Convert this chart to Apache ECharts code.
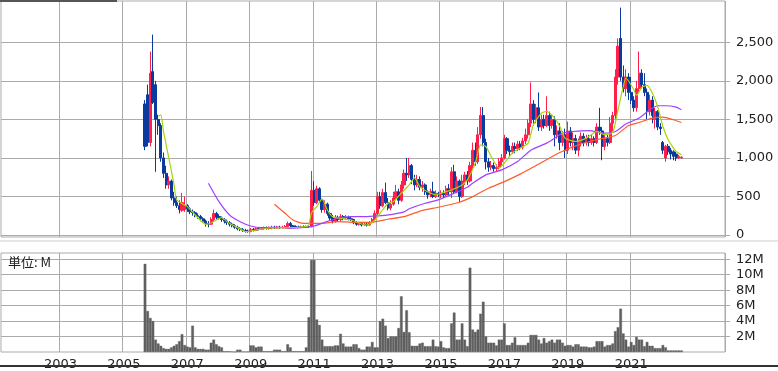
<!DOCTYPE html>
<html><head><meta charset="utf-8">
<script src="https://cdn.jsdelivr.net/npm/echarts@6/dist/echarts.min.js"></script>
<style>html,body{margin:0;padding:0;background:#fff}#c{width:778px;height:371px}</style>
</head><body><div id="c"></div>
<script>
// axis domain: monthly categories
const startYear = 2001, startMonth = 3, monthCount = 274;
const priceStart = '2005-09';
const yearLabels = ['2003','2005','2007','2009','2011','2013','2015','2017','2019','2021'];
// [open, close, low, high] monthly from 2005-09
const ohlc = [
[1700,1150,1100,1750],[1820,1200,1150,1950],[1200,2100,1150,2380],[2120,1720,1700,2600],[1950,1500,820,2000],
[1500,1420,1300,1560],[1420,1000,950,1450],[1000,800,740,1070],[800,650,600,900],[650,700,600,760],
[700,480,450,720],[480,420,380,560],[420,380,350,500],[380,330,280,450],[320,420,300,546],
[330,380,300,500],[380,340,300,400],[340,300,270,360],[300,290,250,330],[290,250,230,310],
[250,240,210,280],[240,210,180,260],[210,180,160,230],[180,150,110,200],[150,140,100,180],
[140,200,130,230],[200,280,180,330],[280,230,200,300],[240,220,200,270],[220,200,170,240],
[200,180,150,220],[180,160,130,200],[160,140,110,180],[140,120,100,160],[120,100,80,140],
[100,80,60,120],[80,70,50,100],[70,60,40,90],[60,50,30,80],[50,45,30,70],
[45,70,35,90],[70,60,45,90],[60,80,50,100],[80,75,60,100],[75,80,65,100],
[80,90,70,110],[90,85,70,110],[85,90,70,110],[90,95,75,120],[95,90,80,120],
[90,100,80,120],[100,95,80,120],[95,100,85,120],[100,110,90,130],[110,150,100,175],
[150,120,100,170],[120,110,95,130],[110,105,90,125],[105,100,90,120],[100,105,90,120],
[105,100,90,125],[100,110,90,125],[110,105,95,130],[105,580,100,830],[580,420,380,700],
[420,600,400,640],[600,450,420,620],[450,330,290,470],[330,400,290,450],[400,280,250,420],
[280,220,180,300],[220,180,150,260],[180,230,160,260],[230,200,170,250],[200,240,180,270],
[240,220,190,260],[220,230,200,260],[230,210,190,250],[210,200,180,240],[200,160,140,210],
[160,140,120,180],[140,150,120,170],[150,130,110,170],[130,140,120,160],[140,130,110,160],
[130,160,120,180],[160,200,150,220],[200,280,190,320],[280,500,260,560],[500,380,340,560],
[380,550,360,600],[550,420,400,680],[420,350,320,480],[350,400,320,450],[400,480,380,560],
[480,560,450,650],[560,450,400,600],[450,650,430,700],[650,800,600,850],[800,780,700,1000],
[780,900,740,1000],[900,720,660,920],[720,650,580,780],[650,720,620,780],[720,620,580,760],
[620,650,560,700],[650,560,520,670],[560,520,470,580],[520,560,490,600],[560,500,480,690],
[500,540,480,580],[540,520,490,560],[520,540,480,580],[540,520,480,580],[520,600,500,640],
[600,560,520,660],[560,820,480,880],[820,560,530,910],[560,700,540,760],[700,500,430,720],
[500,700,480,780],[700,780,650,820],[780,700,650,830],[700,900,680,950],[900,1100,850,1200],
[1100,950,900,1200],[950,1300,920,1400],[1300,1550,1250,1660],[1550,1200,1150,1660],[1200,950,850,1250],
[950,880,820,1000],[880,900,840,960],[900,860,820,940],[860,880,830,920],[880,950,850,1000],
[950,1000,900,1050],[1000,1250,980,1300],[1250,1100,1050,1270],[1100,1080,1010,1160],[1080,1150,1050,1200],
[1150,1120,1060,1200],[1120,1180,1090,1220],[1180,1140,1100,1220],[1140,1220,1110,1260],[1220,1300,1180,1380],
[1300,1450,1250,1500],[1450,1700,1400,1980],[1700,1500,1420,1750],[1500,1650,1450,1700],[1650,1400,1350,1850],
[1400,1500,1350,1560],[1500,1420,1380,1560],[1420,1550,1400,1800],[1550,1420,1350,1600],[1420,1500,1380,1560],
[1500,1300,1150,1540],[1300,1350,1250,1420],[1350,1200,1100,1450],[1200,1300,1150,1350],[1300,1100,1000,1380],
[1100,1350,1050,1470],[1350,1200,1150,1400],[1200,1250,1100,1330],[1250,1100,1050,1300],[1100,1200,1020,1250],
[1200,1280,1150,1330],[1280,1200,1150,1320],[1200,1250,1160,1300],[1250,1200,1150,1300],[1200,1250,1170,1310],
[1250,1200,1150,1280],[1200,1400,1180,1450],[1400,1350,1300,1650],[1350,1150,970,1400],[1150,1250,1100,1300],
[1250,1200,1150,1300],[1200,1450,1180,1530],[1450,1550,1350,1600],[1550,2050,1500,2150],[2050,2450,1950,2550],
[2550,2050,2000,2950],[2050,1900,1850,2200],[1900,2050,1800,2150],[2050,1850,1750,2100],[1850,1750,1700,2050],
[1750,1650,1600,1800],[1650,1900,1600,2000],[1900,2100,1850,2380],[2100,1950,1900,2150],[1950,1850,1800,2100],
[1850,1600,1500,1900],[1600,1750,1550,1820],[1750,1550,1450,1800],[1500,1600,1380,1650],[1600,1400,1360,1620],
[1400,1380,1300,1450],[1200,1100,1050,1220],[1000,1150,950,1170],[1150,1080,1040,1180],[1100,1050,980,1130],
[1080,1020,970,1100],[1050,1000,960,1080],[1000,1020,990,1040],[1000,1010,995,1020]
];
// monthly volume (millions) from 2005-09
const volumeM = [
11.4,5.3,4.4,4.0,1.6,1.1,0.8,0.5,0.4,0.4,0.6,0.8,1.0,1.4,2.3,0.9,0.7,0.6,3.4,0.6,
0.4,0.4,0.4,0.3,0.3,1.2,1.6,1.0,0.75,0.6,0.1,0.1,0.1,0.05,0.02,0.3,0.3,0.05,0.05,0.05,
0.85,0.85,0.6,0.7,0.7,0.1,0.1,0.1,0.1,0.3,0.3,0.3,0.1,0.1,1.0,0.6,0.1,0.1,0.1,0.1,
0.1,0.6,4.5,11.9,11.9,4.2,3.5,1.6,0.75,0.75,0.75,0.75,0.85,0.85,2.35,1.1,0.7,0.7,0.7,1.0,
1.0,0.5,0.3,0.3,0.7,0.7,1.3,0.6,0.6,4.0,4.3,3.4,1.8,2.0,2.0,2.0,3.1,7.2,2.6,5.4,
2.55,0.8,0.8,0.8,1.1,1.2,0.75,0.75,0.75,1.6,0.75,0.7,1.4,0.6,0.5,0.5,3.7,5.1,1.6,1.6,
3.7,1.6,0.75,10.9,2.9,2.6,2.9,4.95,6.5,2.0,1.2,1.2,1.2,0.85,1.6,1.6,3.7,0.9,0.9,1.2,
1.9,0.9,0.9,0.9,0.9,1.2,2.2,2.2,2.2,1.6,1.1,1.8,1.2,1.4,1.6,1.2,1.6,1.6,1.2,0.8,
0.9,0.9,0.7,1.0,1.0,0.7,0.7,0.7,0.6,0.6,0.7,1.4,1.4,1.4,0.7,0.9,0.9,1.1,2.7,3.2,
5.6,2.4,1.6,0.7,1.3,0.9,1.95,1.6,1.6,0.75,1.3,0.8,0.8,0.5,0.5,0.5,0.9,0.6,0.2,0.2,
0.2,0.2,0.2,0.2
];
// moving averages: [month offset from 2005-09, value]
const maShort = [[5,1540],[6,1560],[7,1343],[9,1000],[11,650],[12,455],[16,368],[19,260],[23,139],[25,156],[29,225],[31,173],[36,78],[38,43],[42,65],[47,91],[55,95],[61,110],[62,130],[63,286],[65,368],[67,468],[69,325],[71,238],[74,217],[78,195],[82,143],[84,130],[87,195],[89,282],[92,412],[94,433],[97,542],[100,650],[102,741],[104,628],[107,560],[110,520],[112,542],[116,585],[120,650],[122,715],[125,932],[127,1170],[129,1148],[131,1018],[134,867],[136,932],[139,1062],[142,1127],[145,1192],[147,1430],[150,1582],[152,1603],[155,1517],[157,1408],[159,1257],[163,1213],[167,1257],[171,1343],[174,1300],[177,1330],[179,1625],[181,1928],[182,2037],[185,1885],[186,1810],[188,1915],[190,1940],[192,1842],[194,1668],[196,1408],[198,1235],[200,1127],[201,1083],[203,1040]];
const maMid = [[24,672],[28,433],[32,260],[36,173],[40,117],[44,95],[50,104],[54,87],[60,100],[64,117],[68,165],[73,217],[78,238],[83,238],[88,247],[93,265],[98,300],[100,340],[106,412],[111,455],[117,542],[122,620],[124,672],[129,780],[135,845],[141,953],[146,1100],[152,1192],[156,1278],[158,1322],[162,1343],[168,1355],[174,1322],[178,1343],[182,1440],[187,1517],[191,1625],[194,1677],[197,1677],[201,1660],[203,1625]];
const maLong = [[49,399],[53,282],[56,195],[60,150],[66,150],[73,173],[79,165],[85,165],[92,204],[98,238],[105,320],[111,360],[119,425],[124,498],[130,607],[136,693],[142,790],[149,920],[157,1070],[164,1170],[172,1245],[178,1290],[183,1420],[187,1460],[192,1517],[196,1530],[200,1495],[203,1460]];
const priceTicks = [0,500,1000,1500,2000,2500];
const volumeTicks = [2,4,6,8,10,12];

const categories = [];
for (let i = 0; i < monthCount; i++) {
  const t = startYear * 12 + (startMonth - 1) + i;
  categories.push(Math.floor(t / 12) + '-' + String(t % 12 + 1).padStart(2, '0'));
}
const s0 = categories.indexOf(priceStart);
const candleData = ohlc.map((d, i) => [categories[s0 + i], d[0], d[1], d[2], d[3]]);
const volData = volumeM.map((v, i) => [categories[s0 + i], v]);
const maData = a => a.map(p => [categories[s0 + p[0]], p[1]]);

const isMark = (idx, val) => { const p = String(val).split('-'); return p[1] === '01' && yearLabels.indexOf(p[0]) >= 0; };
const FONT = 'DejaVu Sans';
const GRID = '#ababab';

function xAxis(gi, labels) {
  return {
    type: 'category', gridIndex: gi, data: categories, boundaryGap: true,
    axisLine: { show: false }, axisTick: { show: false },
    axisLabel: { show: labels, interval: isMark, formatter: v => v.slice(0, 4), color: '#222', fontSize: 13, fontFamily: FONT, margin: 6 },
    splitLine: { show: true, interval: isMark, lineStyle: { color: GRID, width: 1 } }
  };
}

const chart = echarts.init(document.getElementById('c'), null, { renderer: 'canvas' });
chart.setOption({
  animation: false,
  backgroundColor: '#fff',
  grid: [
    { left: 1, right: 53, top: 1, height: 236, show: true, borderColor: GRID, borderWidth: 1, backgroundColor: '#fff' },
    { left: 1, right: 53, top: 253, height: 100, show: true, borderColor: GRID, borderWidth: 1, backgroundColor: '#fff' }
  ],
  xAxis: [xAxis(0, false), xAxis(1, true)],
  yAxis: [
    { type: 'value', gridIndex: 0, position: 'right', min: -26, max: 3036,
      axisLine: { show: false },
      axisTick: { show: true, length: 5, customValues: priceTicks, lineStyle: { color: GRID } },
      axisLabel: { customValues: priceTicks, formatter: v => v.toLocaleString('en-US'), color: '#222', fontSize: 13, fontFamily: FONT, margin: 11 },
      splitLine: { show: true, lineStyle: { color: GRID, width: 1 } } },
    { type: 'value', gridIndex: 1, position: 'right', min: 0, max: 12.8,
      axisLine: { show: false },
      axisTick: { show: true, length: 5, customValues: volumeTicks, lineStyle: { color: GRID } },
      axisLabel: { customValues: volumeTicks, formatter: v => v + 'M', color: '#222', fontSize: 13, fontFamily: FONT, margin: 11 },
      splitLine: { show: true, lineStyle: { color: GRID, width: 1 } } }
  ],
  series: [
    { type: 'candlestick', xAxisIndex: 0, yAxisIndex: 0, data: candleData, encode: { x: 0, y: [1, 2, 3, 4] },
      barWidth: 2.6,
      itemStyle: { color: '#ff1f4b', borderColor: '#ff1f4b', color0: '#0b3a9e', borderColor0: '#0b3a9e', borderWidth: 1 } },
    { type: 'line', xAxisIndex: 0, yAxisIndex: 0, data: maData(maLong), showSymbol: false, smooth: 0.2,
      lineStyle: { color: '#ff5a2a', width: 1.2 } },
    { type: 'line', xAxisIndex: 0, yAxisIndex: 0, data: maData(maMid), showSymbol: false, smooth: 0.2,
      lineStyle: { color: '#a040ff', width: 1.2 } },
    { type: 'line', xAxisIndex: 0, yAxisIndex: 0, data: maData(maShort), showSymbol: false, smooth: 0.2,
      lineStyle: { color: '#a6d40a', width: 1.2 } },
    { type: 'bar', xAxisIndex: 1, yAxisIndex: 1, data: volData, barCategoryGap: '0%',
      itemStyle: { color: '#5f5f5f', borderColor: '#5f5f5f', borderWidth: 0.4 } }
  ],
  graphic: [
    { type: 'rect', left: 0, top: 0, shape: { width: 117, height: 2 }, style: { fill: '#555' }, z: 100 },
    { type: 'rect', left: 0, top: 240, shape: { width: 778, height: 2 }, style: { fill: '#e6e6e6' }, z: 100 },
    { type: 'rect', left: 0, top: 365, shape: { width: 778, height: 2 }, style: { fill: '#333' }, z: 100 },
    { type: 'text', left: 8, top: 256, style: { text: '単位: M', font: '13px "Noto Sans CJK JP"', fill: '#222' }, z: 100 }
  ]
});
</script></body></html>
